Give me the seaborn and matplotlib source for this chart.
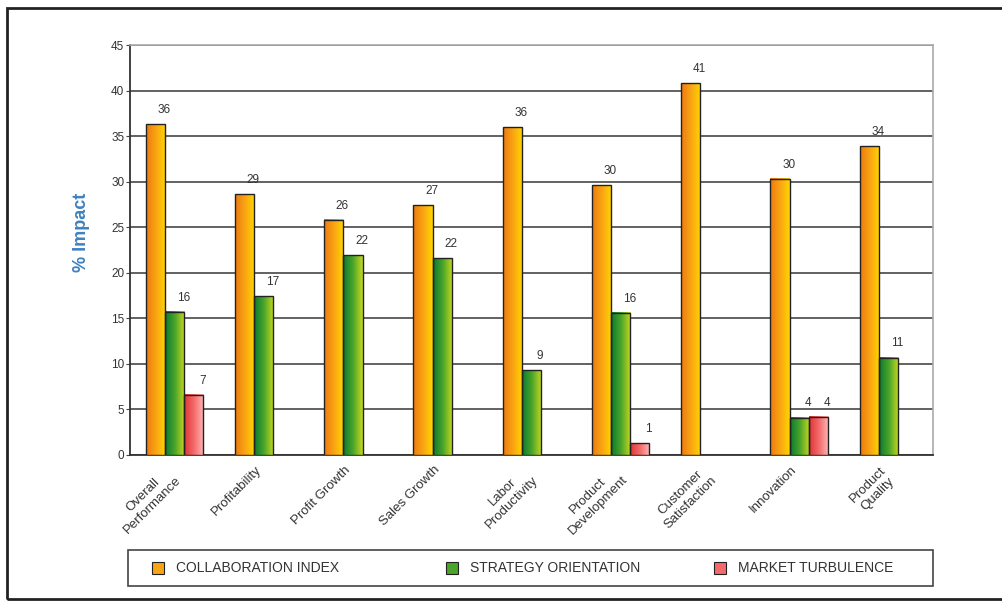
import numpy as np
import pandas as pd
import matplotlib
matplotlib.use("Agg")
import matplotlib.pyplot as plt
from matplotlib.patches import Rectangle
from matplotlib.colors import LinearSegmentedColormap
from matplotlib.transforms import ScaledTranslation
import seaborn as sns

# chart data
categories = ["Overall\nPerformance", "Profitability", "Profit Growth", "Sales Growth",
              "Labor\nProductivity", "Product\nDevelopment", "Customer\nSatisfaction",
              "Innovation", "Product\nQuality"]
collaboration = [36.3, 28.6, 25.8, 27.4, 36.0, 29.6, 40.8, 30.3, 33.9]
strategy = [15.7, 17.4, 21.9, 21.6, 9.3, 15.6, np.nan, 4.1, 10.7]
turbulence = [6.6, np.nan, np.nan, np.nan, np.nan, 1.3, np.nan, 4.2, np.nan]
series_names = ["COLLABORATION INDEX", "STRATEGY ORIENTATION", "MARKET TURBULENCE"]

df = pd.DataFrame({
    "metric": categories * 3,
    "series": [series_names[0]] * 9 + [series_names[1]] * 9 + [series_names[2]] * 9,
    "value": collaboration + strategy + turbulence,
})

sns.set_style("white")
plt.rcParams["font.family"] = ["Liberation Sans", "DejaVu Sans"]

# left -> right shading inside each bar
grads = {
    series_names[0]: ["#ee7a10", "#f9a414", "#ffd600"],
    series_names[1]: ["#0b7a30", "#4aa52a", "#c8d820"],
    series_names[2]: ["#e03434", "#f46a6a", "#ffb8b8"],
}
mid = {k: v[1] for k, v in grads.items()}
cmaps = {k: LinearSegmentedColormap.from_list(k, v) for k, v in grads.items()}

fig = plt.figure(figsize=(10.03, 6.02), dpi=100)
ax = fig.add_axes([0.1296, 0.2442, 0.8006, 0.681])

sns.barplot(data=df, x="metric", y="value", hue="series", hue_order=series_names,
            order=categories, palette=mid, width=0.645, edgecolor="#222222",
            linewidth=1.0, ax=ax, legend=False, errorbar=None, zorder=3)

gx = np.linspace(0, 1, 64).reshape(1, -1)
for cont, name in zip(ax.containers, series_names):
    for bar in cont:
        h = bar.get_height()
        if not np.isfinite(h) or h == 0:
            continue
        x0, w = bar.get_x(), bar.get_width()
        ax.imshow(gx, extent=[x0, x0 + w, 0, h], aspect="auto", cmap=cmaps[name],
                  zorder=3, interpolation="bilinear")
        bar.set_facecolor("none")
        bar.set_zorder(4)
        ax.text(x0 + w * 0.95, h + 0.9, f"{h:.0f}", ha="center", va="bottom",
                fontsize=8.5, color="#333333", zorder=5)

ax.set_xlim(-0.5, len(categories) - 0.5)
ax.set_ylim(0, 45)
ax.set_yticks(range(0, 46, 5))
ax.yaxis.grid(True, color="#555555", linewidth=1.3, zorder=1)
ax.set_axisbelow(True)

# category labels: rotated, right end sitting just under the group centre
ax.set_xticks(range(len(categories)))
ax.set_xticklabels([])
ax.tick_params(axis="x", length=0)
shift = ScaledTranslation(-9 / 100, -9 / 100, fig.dpi_scale_trans)
for i, cat in enumerate(categories):
    ax.text(i, 0, cat, rotation=45, ha="right", va="top", rotation_mode="anchor",
            multialignment="center", fontsize=9.5, color="#333333",
            transform=ax.get_xaxis_transform() + shift, clip_on=False)
ax.set_xticks(np.arange(0.5, len(categories) - 0.5, 1), minor=True)
ax.tick_params(axis="x", which="minor", length=4, direction="inout", color="#444444")
ax.tick_params(axis="y", labelsize=8.5, labelcolor="#333333", length=3, color="#444444",
               left=True, pad=1)

for side in ["left", "bottom"]:
    ax.spines[side].set_color("#333333")
    ax.spines[side].set_linewidth(1.3)
for side in ["top", "right"]:
    ax.spines[side].set_color("#aaaaaa")
    ax.spines[side].set_linewidth(1.2)

ax.set_xlabel("")
ax.set_ylabel("% Impact", fontsize=13, fontweight="bold", color="#3f82c0")
ax.yaxis.set_label_coords(-0.05, 0.544)

# legend box, laid out like the original (fixed column starts)
fig.patches.append(Rectangle((128 / 1003, 1 - 586 / 602), 805 / 1003, 36 / 602,
                             transform=fig.transFigure, fill=False,
                             edgecolor="#444444", linewidth=1.2))
leg_x = [152, 446, 714]
for name, xs in zip(series_names, leg_x):
    fig.patches.append(Rectangle((xs / 1003, 1 - 574 / 602), 12 / 1003, 12 / 602,
                                 transform=fig.transFigure, facecolor=mid[name],
                                 edgecolor="#222222", linewidth=0.8))
    fig.text((xs + 24) / 1003, 1 - 568 / 602, name, fontsize=10, color="#333333",
             va="center", ha="left")

fig.patches.append(Rectangle((0.007, 0.005), 1.2, 0.982, transform=fig.transFigure,
                             fill=False, edgecolor="#222222", linewidth=2.0))

fig.savefig("out.png", dpi=100)
